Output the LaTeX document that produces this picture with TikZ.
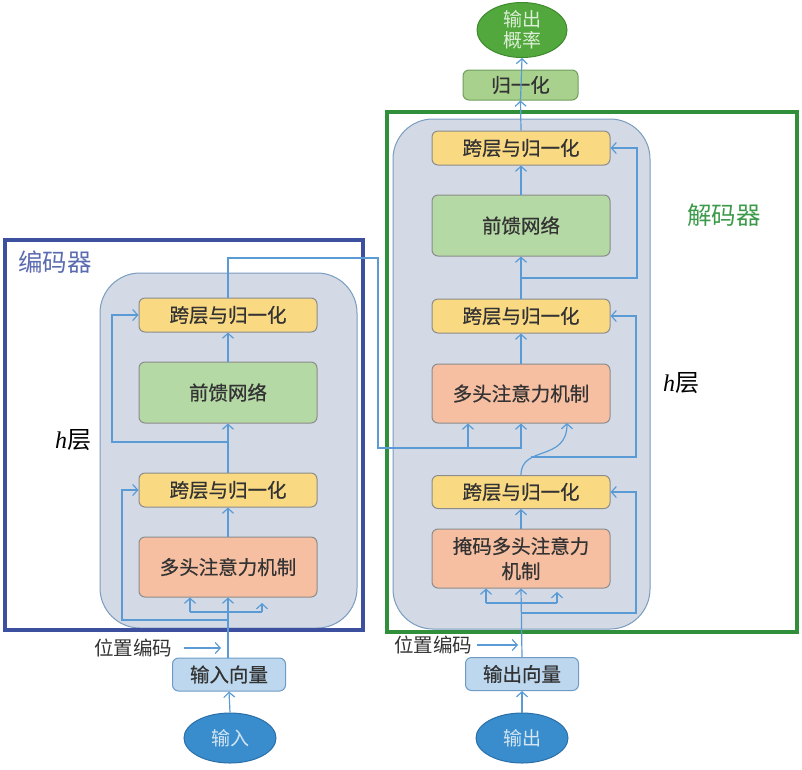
\documentclass[tikz,border=0pt]{standalone}
\usepackage{fontspec}
\setmainfont{Liberation Serif}
\newfontfamily\cjk{Noto Sans CJK SC}
\newfontfamily\cjkb[FakeBold=0.6]{Noto Sans CJK SC}
\usetikzlibrary{arrows.meta,shapes.geometric}
\definecolor{panelfill}{HTML}{D3DAE5}
\definecolor{panelline}{HTML}{7A9CC0}
\definecolor{yel}{HTML}{FAD983}
\definecolor{grn}{HTML}{B5D9A5}
\definecolor{sal}{HTML}{F7BFA1}
\definecolor{boxline}{HTML}{8C8C8C}
\definecolor{lblue}{HTML}{BDD7EE}
\definecolor{lblueline}{HTML}{6E9BC5}
\definecolor{ellblue}{HTML}{3A8DCC}
\definecolor{ellblueline}{HTML}{2A6FA8}
\definecolor{ellgrn}{HTML}{52A83C}
\definecolor{ellgrnline}{HTML}{3E8A2E}
\definecolor{normgrn}{HTML}{A9D18E}
\definecolor{normline}{HTML}{6F9E5A}
\definecolor{encframe}{HTML}{3D50A0}
\definecolor{decframe}{HTML}{2F8F3A}
\definecolor{conncol}{HTML}{5B9BD5}
\definecolor{txt}{HTML}{333333}
\definecolor{enclabel}{HTML}{5B6BB0}
\definecolor{declabel}{HTML}{3C9A4A}
\tikzset{
  box/.style={draw=boxline, line width=1pt, rounded corners=6pt, align=center,
    font=\cjkb\fontsize{19.5}{25}\selectfont, text=txt, inner sep=0pt, minimum width=178pt},
  normbox/.style={box, fill=yel, minimum height=34pt},
  ffbox/.style={box, fill=grn, minimum height=61pt},
  mhbox/.style={box, fill=sal, minimum height=60pt},
  vecbox/.style={box, fill=lblue, draw=lblueline, minimum width=113pt, minimum height=33pt},
  ellnode/.style={ellipse, draw, line width=1pt, inner sep=0pt, align=center,
    font=\cjk\fontsize{19}{21}\selectfont},
  panel/.style={draw=panelline, fill=panelfill, line width=1pt, rounded corners=40pt},
  conn/.style={draw=conncol, line width=1.2pt},
  arr/.style={conn, -{Straight Barb[length=5pt,width=11pt]}},
  plain/.style={font=\cjk\fontsize{19.5}{22}\selectfont, text=txt, inner sep=0pt}
}
\begin{document}
\begin{tikzpicture}[x=1pt,y=-1pt]
\useasboundingbox (0,0) rectangle (802,769);
% panels
\draw[panel] (100,273) rectangle (357,628);
\draw[panel] (393,119) rectangle (650,629);
% frames
\draw[encframe, line width=4pt] (5,240) rectangle (363,630);
\draw[decframe, line width=4pt] (387,112) rectangle (797,632);
% labels
\node[text=enclabel, font=\cjk\fontsize{24.5}{26}\selectfont, inner sep=0pt] (enclab) at (55,262) {编码器};
\node[text=declabel, font=\cjk\fontsize{24.5}{26}\selectfont, inner sep=0pt] (declab) at (724,215) {解码器};
\node[inner sep=0pt, font=\fontsize{24}{26}\selectfont] (ehl) at (73,440) {\textit{h}{\cjk 层}};
\node[inner sep=0pt, font=\fontsize{24}{26}\selectfont] (dhl) at (681,383) {\textit{h}{\cjk 层}};
% encoder boxes
\node[normbox] (eN2) at (228,315) {跨层与归一化};
\node[ffbox] (eFF) at (228,392.5) {前馈网络};
\node[normbox] (eN1) at (228,490) {跨层与归一化};
\node[mhbox] (eMH) at (228,567) {多头注意力机制};
% decoder boxes
\node[normbox] (dN3) at (521,148) {跨层与归一化};
\node[ffbox] (dFF) at (521,225.5) {前馈网络};
\node[normbox] (dN2) at (521,316) {跨层与归一化};
\node[mhbox, minimum height=59pt] (dMH2) at (521,393.5) {多头注意力机制};
\node[normbox, minimum height=33pt] (dN1) at (521,492) {跨层与归一化};
\node[mhbox, minimum height=59pt] (dMH1) at (521,558.5) {掩码多头注意力\\机制};
% top
\node[box, fill=normgrn, draw=normline, minimum width=115pt, minimum height=30pt] (norm) at (520.5,85) {归一化};
\node[ellnode, fill=ellgrn, draw=ellgrnline, text=white!80!ellgrn, minimum width=90pt, minimum height=55pt] (prob) at (522,30) {输出\\概率};
% bottom
\node[vecbox] (eIn) at (229,674.5) {输入向量};
\node[vecbox] (dOut) at (522,674) {输出向量};
\node[ellnode, fill=ellblue, draw=ellblueline, text=white!78!ellblue, minimum width=92pt, minimum height=50pt] (inE) at (230,738) {输入};
\node[ellnode, fill=ellblue, draw=ellblueline, text=white!78!ellblue, minimum width=92pt, minimum height=50pt] (outE) at (522,738) {输出};
\node[plain] (pe1) at (133,648) {位置编码};
\node[plain] (pe2) at (433,645) {位置编码};
% ---------- encoder connectors
\draw[arr] (inE.north) -- (eIn.south);
\draw[arr] (eIn.north) -- (eIn.north -| eMH.south) -- (eMH.south);
\coordinate (pe1b) at (221,648);
\draw[arr] ([xshift=12pt]pe1.east) -- (pe1b);
\coordinate (eB1) at (190,612);
\coordinate (eB2) at (262,612);
\coordinate (eB2t) at (262,603);
\draw[conn] (eB1) -- (eB2);
\draw[arr] (eB1) -- (eB1 |- eMH.south);
\draw[arr] (eB2) -- (eB2t);
\coordinate (eR1) at (228,620);
\draw[arr] (eR1) -- (122,620) |- (eN1.west);
\draw[arr] (eMH.north) -- (eN1.south);
\draw[arr] (eN1.north) -- (eFF.south);
\coordinate (eR2) at (228,442);
\draw[arr] (eR2) -- (112,442) |- (eN2.west);
\draw[arr] (eFF.north) -- (eN2.south);
% encoder output to decoder
\coordinate (eK) at (468,448);
\draw[arr] (eN2.north) -- (228,258) -- (378,258) -- (378,448) -- (521,448) -- (dMH2.south);
\draw[arr] (eK) -- (eK |- dMH2.south);
% ---------- decoder connectors
\draw[arr] (outE.north) -- (dOut.south);
\draw[arr] (dOut.north) -- (dMH1.south);
\coordinate (pe2b) at (518,645);
\draw[arr] ([xshift=5pt]pe2.east) -- (pe2b);
\coordinate (dB1) at (486,603);
\coordinate (dB2) at (557,603);
\coordinate (dB2t) at (557,592);
\draw[conn] (dB1) -- (dB2);
\draw[arr] (dB1) -- (dB1 |- dMH1.south);
\draw[arr] (dB2) -- (dB2t);
\coordinate (dR1) at (521,613);
\draw[arr] (dR1) -- (636,613) |- (dN1.east);
\draw[arr] (dMH1.north) -- (dN1.south);
\coordinate (dQ) at (567,423);
\draw[arr] (dN1.north) .. controls (521,445) and (567,462) .. (dQ);
\coordinate (dR2) at (531,457);
\draw[arr] (dR2) -- (636,457) |- (dN2.east);
\draw[arr] (dMH2.north) -- (dN2.south);
\draw[arr] (dN2.north) -- (dFF.south);
\coordinate (dR3) at (521,278);
\draw[arr] (dR3) -- (637,278) |- (dN3.east);
\draw[arr] (dFF.north) -- (dN3.south);
\draw[arr] (dN3.north) -- (norm.south);
\draw[arr] (norm.south) -- (prob.south);
\end{tikzpicture}
\end{document}
